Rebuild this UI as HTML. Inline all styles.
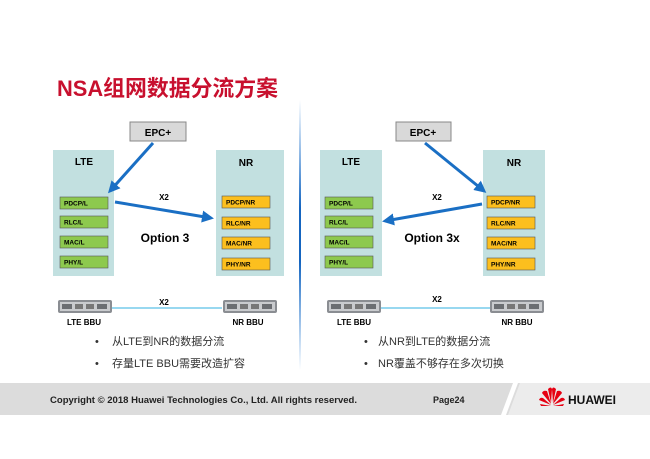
<!DOCTYPE html>
<html><head><meta charset="utf-8"><style>
body{margin:0;width:650px;height:459px;background:#fff;overflow:hidden}
svg{display:block}
text{font-family:"Liberation Sans","Noto Sans CJK SC",sans-serif}
</style></head><body>
<svg width="650" height="459" viewBox="0 0 650 459">
<defs>
<linearGradient id="vl" x1="0" y1="0" x2="0" y2="1">
<stop offset="0" stop-color="#2a7fd6" stop-opacity="0"/>
<stop offset="0.4" stop-color="#1565c0"/>
<stop offset="0.6" stop-color="#1565c0"/>
<stop offset="1" stop-color="#2a7fd6" stop-opacity="0"/>
</linearGradient>
<marker id="ar" markerWidth="4" markerHeight="4" refX="3" refY="2" orient="auto" markerUnits="strokeWidth">
<path d="M0,0 L4,2 L0,4 z" fill="#1a6fc4"/></marker>
<g id="bbu">
<rect x="0" y="0" width="54" height="13" rx="2" fill="#8a8d92"/>
<rect x="2" y="2" width="50" height="9" fill="#c9cbce"/>
<rect x="4" y="4" width="10" height="5" fill="#6b6e72"/>
<rect x="17" y="4" width="8" height="5" fill="#777"/>
<rect x="28" y="4" width="8" height="5" fill="#777"/>
<rect x="39" y="4" width="10" height="5" fill="#6b6e72"/>
</g>
</defs>
<text x="57" y="96" font-size="22" font-weight="bold" fill="#c8102e" textLength="221" lengthAdjust="spacingAndGlyphs">NSA组网数据分流方案</text>
<rect x="299" y="100" width="2" height="270" fill="url(#vl)"/>

<!-- LEFT -->
<rect x="53" y="150" width="61" height="126" fill="#c2e0e0"/>
<rect x="216" y="150" width="68" height="126" fill="#c2e0e0"/>
<rect x="130" y="122" width="56" height="19" fill="#d9d9d9" stroke="#888"/>
<text x="158" y="136" font-size="10" font-weight="bold" text-anchor="middle">EPC+</text>
<text x="84" y="165" font-size="10" font-weight="bold" text-anchor="middle">LTE</text>
<text x="246" y="166" font-size="10" font-weight="bold" text-anchor="middle">NR</text>
<g font-size="6.5" font-weight="bold">
<rect x="60" y="197" width="48" height="12" fill="#8dc94e" stroke="#555" stroke-width=".6"/><text x="64" y="205.5">PDCP/L</text>
<rect x="60" y="216" width="48" height="12" fill="#8dc94e" stroke="#555" stroke-width=".6"/><text x="64" y="224.5">RLC/L</text>
<rect x="60" y="236" width="48" height="12" fill="#8dc94e" stroke="#555" stroke-width=".6"/><text x="64" y="244.5">MAC/L</text>
<rect x="60" y="256" width="48" height="12" fill="#8dc94e" stroke="#555" stroke-width=".6"/><text x="64" y="264.5">PHY/L</text>
<rect x="222" y="196" width="48" height="12" fill="#fcbf1e" stroke="#555" stroke-width=".6"/><text x="226" y="204.5">PDCP/NR</text>
<rect x="222" y="217" width="48" height="12" fill="#fcbf1e" stroke="#555" stroke-width=".6"/><text x="226" y="225.5">RLC/NR</text>
<rect x="222" y="237" width="48" height="12" fill="#fcbf1e" stroke="#555" stroke-width=".6"/><text x="226" y="245.5">MAC/NR</text>
<rect x="222" y="258" width="48" height="12" fill="#fcbf1e" stroke="#555" stroke-width=".6"/><text x="226" y="266.5">PHY/NR</text>
</g>
<line x1="153" y1="143" x2="110" y2="191" stroke="#1a6fc4" stroke-width="3" marker-end="url(#ar)"/>
<line x1="115" y1="202" x2="211" y2="218" stroke="#1a6fc4" stroke-width="3" marker-end="url(#ar)"/>
<text x="164" y="200" font-size="8" font-weight="bold" text-anchor="middle">X2</text>
<text x="165" y="242" font-size="12" font-weight="bold" text-anchor="middle">Option 3</text>
<line x1="112" y1="308" x2="222" y2="308" stroke="#5bc0e8" stroke-width="1.2"/>
<use href="#bbu" x="58" y="300"/><use href="#bbu" x="223" y="300"/>
<text x="164" y="305" font-size="8" font-weight="bold" text-anchor="middle">X2</text>
<text x="84" y="325" font-size="8" font-weight="bold" text-anchor="middle">LTE BBU</text>
<text x="248" y="325" font-size="8" font-weight="bold" text-anchor="middle">NR BBU</text>
<g font-size="11" fill="#333">
<text x="95" y="345">•</text><text x="112" y="345">从LTE到NR的数据分流</text>
<text x="95" y="367">•</text><text x="112" y="367">存量LTE BBU需要改造扩容</text>
</g>

<!-- RIGHT -->
<rect x="320" y="150" width="62" height="126" fill="#c2e0e0"/>
<rect x="483" y="150" width="62" height="126" fill="#c2e0e0"/>
<rect x="396" y="122" width="55" height="19" fill="#d9d9d9" stroke="#888"/>
<text x="423" y="136" font-size="10" font-weight="bold" text-anchor="middle">EPC+</text>
<text x="351" y="165" font-size="10" font-weight="bold" text-anchor="middle">LTE</text>
<text x="514" y="166" font-size="10" font-weight="bold" text-anchor="middle">NR</text>
<g font-size="6.5" font-weight="bold">
<rect x="325" y="197" width="48" height="12" fill="#8dc94e" stroke="#555" stroke-width=".6"/><text x="329" y="205.5">PDCP/L</text>
<rect x="325" y="216" width="48" height="12" fill="#8dc94e" stroke="#555" stroke-width=".6"/><text x="329" y="224.5">RLC/L</text>
<rect x="325" y="236" width="48" height="12" fill="#8dc94e" stroke="#555" stroke-width=".6"/><text x="329" y="244.5">MAC/L</text>
<rect x="325" y="256" width="48" height="12" fill="#8dc94e" stroke="#555" stroke-width=".6"/><text x="329" y="264.5">PHY/L</text>
<rect x="487" y="196" width="48" height="12" fill="#fcbf1e" stroke="#555" stroke-width=".6"/><text x="491" y="204.5">PDCP/NR</text>
<rect x="487" y="217" width="48" height="12" fill="#fcbf1e" stroke="#555" stroke-width=".6"/><text x="491" y="225.5">RLC/NR</text>
<rect x="487" y="237" width="48" height="12" fill="#fcbf1e" stroke="#555" stroke-width=".6"/><text x="491" y="245.5">MAC/NR</text>
<rect x="487" y="258" width="48" height="12" fill="#fcbf1e" stroke="#555" stroke-width=".6"/><text x="491" y="266.5">PHY/NR</text>
</g>
<line x1="425" y1="143" x2="484" y2="191" stroke="#1a6fc4" stroke-width="3" marker-end="url(#ar)"/>
<line x1="482" y1="204" x2="385" y2="221" stroke="#1a6fc4" stroke-width="3" marker-end="url(#ar)"/>
<text x="437" y="200" font-size="8" font-weight="bold" text-anchor="middle">X2</text>
<text x="432" y="242" font-size="12" font-weight="bold" text-anchor="middle">Option 3x</text>
<line x1="380" y1="308" x2="490" y2="308" stroke="#5bc0e8" stroke-width="1.2"/>
<use href="#bbu" x="327" y="300"/><use href="#bbu" x="490" y="300"/>
<text x="437" y="302" font-size="8" font-weight="bold" text-anchor="middle">X2</text>
<text x="354" y="325" font-size="8" font-weight="bold" text-anchor="middle">LTE BBU</text>
<text x="517" y="325" font-size="8" font-weight="bold" text-anchor="middle">NR BBU</text>
<g font-size="11" fill="#333">
<text x="364" y="345">•</text><text x="378" y="345">从NR到LTE的数据分流</text>
<text x="364" y="367">•</text><text x="378" y="367">NR覆盖不够存在多次切换</text>
</g>

<!-- footer -->
<rect x="0" y="383" width="650" height="32" fill="#dcdcdc"/>
<polygon points="520,383 650,383 650,415 508,415" fill="#ececec"/>
<polygon points="513,383 518,383 506,415 501,415" fill="#fff"/>
<text x="50" y="403" font-size="9.5" font-weight="bold" fill="#222" textLength="307" lengthAdjust="spacingAndGlyphs">Copyright © 2018 Huawei Technologies Co., Ltd. All rights reserved.</text>
<text x="433" y="403" font-size="9" font-weight="bold" fill="#222">Page24</text>
<g transform="translate(552,398)" fill="#e60012">
<path d="M-1,5 L-4,-9 Q-1,-12 0,-9 Z"/>
<path d="M1,5 L4,-9 Q1,-12 0,-9 Z"/>
<path d="M-1,6 L-10,-5 Q-9,-8 -5,-7 Z"/>
<path d="M1,6 L10,-5 Q9,-8 5,-7 Z"/>
<path d="M-1,7 L-13,2 Q-12,-1 -9,0 Z"/>
<path d="M1,7 L13,2 Q12,-1 9,0 Z"/>
<path d="M-1,8 L-11,8 L-12,6 Z"/>
<path d="M1,8 L11,8 L12,6 Z"/>
</g>
<text x="568" y="404" font-size="12" font-weight="bold" fill="#111">HUAWEI</text>
</svg>
</body></html>
